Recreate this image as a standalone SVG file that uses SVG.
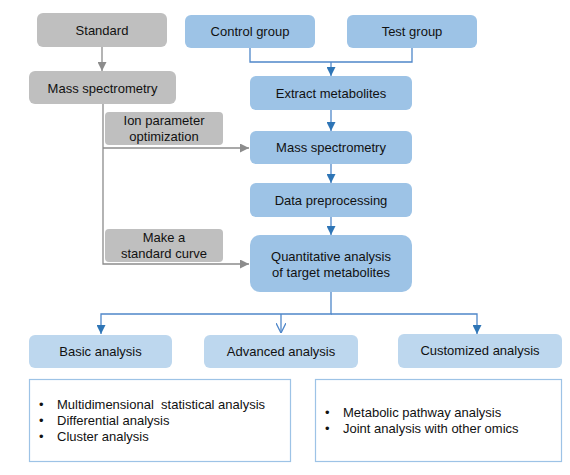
<svg xmlns="http://www.w3.org/2000/svg" width="570" height="475" viewBox="0 0 570 475">
<defs>
<style>
text{font-family:"Liberation Sans",Arial,sans-serif;font-size:13px;fill:#111;text-anchor:middle;dominant-baseline:central}
.g{fill:#BFBFBF}
.b{fill:#9DC3E6}
.l{fill:#BDD7EE}
.box{fill:#fff;stroke:#9DC3E6;stroke-width:1.2}
.gl{fill:none;stroke:#8C8C8C;stroke-width:1.3}
.bl{fill:none;stroke:#4F87C9;stroke-width:1.3}
.lt{text-anchor:start}
.pre{white-space:pre}
</style>
<marker id="ga" viewBox="0 0 10 10" refX="10" refY="5" markerWidth="9" markerHeight="9" markerUnits="userSpaceOnUse" orient="auto"><path d="M0,0 L10,5 L0,10 z" fill="#8C8C8C"/></marker>
<marker id="ba" viewBox="0 0 10 10" refX="10" refY="5" markerWidth="9" markerHeight="9" markerUnits="userSpaceOnUse" orient="auto"><path d="M0,0 L10,5 L0,10 z" fill="#2E75B6"/></marker>
<marker id="oa" viewBox="0 0 10 10" refX="10" refY="5" markerWidth="10" markerHeight="10" markerUnits="userSpaceOnUse" orient="auto"><path d="M0,0 L10,5 L0,10" fill="none" stroke="#4F87C9" stroke-width="1.3"/></marker>
</defs>
<g id="connectors">
<path class="gl" d="M102,47 V71" marker-end="url(#ga)"/>
<path class="gl" d="M103,104 V264 H249" marker-end="url(#ga)"/>
<path class="gl" d="M103,148 H249" marker-end="url(#ga)"/>
<path class="bl" d="M250,48 V62 H412 V48"/>
<path class="bl" d="M331,62 V76" marker-end="url(#ba)"/>
<path class="bl" d="M331,110 V131" marker-end="url(#ba)"/>
<path class="bl" d="M331,164 V183" marker-end="url(#ba)"/>
<path class="bl" d="M331,217 V235" marker-end="url(#ba)"/>
<path class="bl" d="M331,292 V314 H101 V334" marker-end="url(#ba)"/>
<path class="bl" d="M331,314 H477 V334" marker-end="url(#ba)"/>
<path class="bl" d="M281,314 V333" marker-end="url(#oa)"/>
</g>
<g id="standard"><rect class="g" x="37" y="13" width="130" height="34" rx="6"/><text x="102" y="30">Standard</text></g>
<g id="ms-gray"><rect class="g" x="29" y="71" width="147" height="33" rx="6"/><text x="102.5" y="88">Mass spectrometry</text></g>
<g id="ion"><rect class="g" x="105" y="112" width="118" height="33" rx="4"/><text x="164" y="120.5">Ion parameter</text><text x="164" y="136">optimization</text></g>
<g id="curve"><rect class="g" x="105" y="229" width="118" height="33" rx="4"/><text x="164" y="237.5">Make a</text><text x="164" y="253">standard curve</text></g>
<g id="control"><rect class="b" x="185" y="15" width="130" height="33" rx="6"/><text x="250" y="31.5">Control group</text></g>
<g id="test"><rect class="b" x="347" y="15" width="130" height="33" rx="6"/><text x="412" y="31.5">Test group</text></g>
<g id="extract"><rect class="b" x="250" y="76" width="162" height="34" rx="6"/><text x="331" y="93">Extract metabolites</text></g>
<g id="ms-blue"><rect class="b" x="250" y="131" width="162" height="33" rx="6"/><text x="331" y="147.5">Mass spectrometry</text></g>
<g id="preproc"><rect class="b" x="250" y="183" width="162" height="34" rx="6"/><text x="331" y="200">Data preprocessing</text></g>
<g id="quant"><rect class="b" x="250" y="235" width="162" height="57" rx="10"/><text x="331" y="256">Quantitative analysis</text><text x="331" y="272">of target metabolites</text></g>
<g id="basic"><rect class="l" x="29" y="335" width="143" height="33" rx="6"/><text x="100.5" y="351.5">Basic analysis</text></g>
<g id="advanced"><rect class="l" x="204" y="335" width="154" height="33" rx="6"/><text x="281" y="351.5">Advanced analysis</text></g>
<g id="customized"><rect class="l" x="398" y="334" width="164" height="34" rx="6"/><text x="480" y="350.5">Customized analysis</text></g>
<g id="basic-list"><rect class="box" x="29.5" y="379.5" width="261" height="82"/>
<text class="lt" x="39" y="404">•</text><text class="lt pre" x="57" y="404">Multidimensional  statistical analysis</text>
<text class="lt" x="39" y="420">•</text><text class="lt" x="57" y="420">Differential analysis</text>
<text class="lt" x="39" y="436">•</text><text class="lt" x="57" y="436">Cluster analysis</text>
</g>
<g id="adv-list"><rect class="box" x="315.5" y="379.5" width="246" height="82"/>
<text class="lt" x="325" y="412">•</text><text class="lt" x="343" y="412">Metabolic pathway analysis</text>
<text class="lt" x="325" y="428">•</text><text class="lt" x="343" y="428">Joint analysis with other omics</text>
</g>
</svg>
